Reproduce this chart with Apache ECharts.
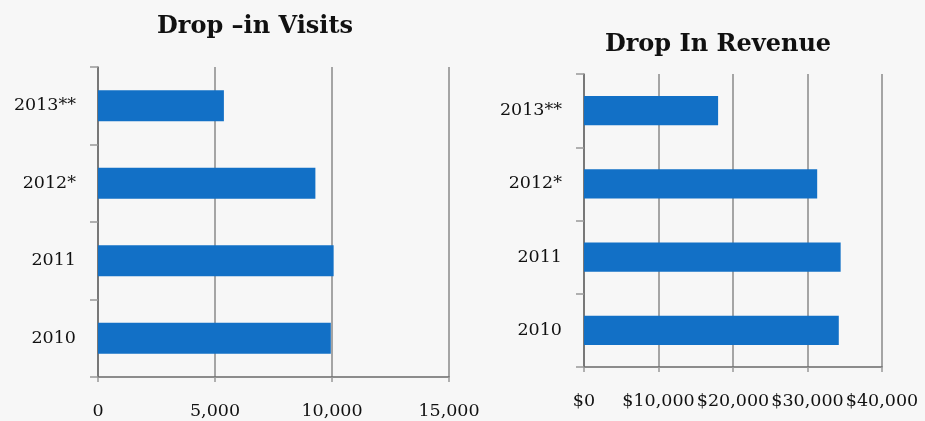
<!DOCTYPE html>
<html>
<head>
<meta charset="utf-8">
<script src="https://cdn.jsdelivr.net/npm/echarts@6/dist/echarts.min.js"></script>
<style>
html,body{margin:0;padding:0;background:#f7f7f7;}
#c{width:925px;height:421px;}
</style>
</head>
<body>
<div id="c"></div>
<script>
var categories = ['2010', '2011', '2012*', '2013**'];
var visits = [9950, 10070, 9290, 5380];
var revenue = [34200, 34450, 31300, 18000];
var visitTicks = [0, 5000, 10000, 15000];
var revenueTicks = [0, 10000, 20000, 30000, 40000];
var titles = ['Drop \u2013in Visits', 'Drop In Revenue'];

var serif = '"DejaVu Serif", "Liberation Serif", serif';
var barColor = '#1270c6';
var fmt = function (v) { return v.toLocaleString('en-US'); };

function catAxis(gi) {
  return {
    type: 'category', gridIndex: gi, data: categories,
    axisLine: {lineStyle: {color: '#6a6a6a', width: 1.5}},
    axisTick: {show: true, length: 8, lineStyle: {color: '#999', width: 1.5}},
    axisLabel: {color: '#111', fontFamily: serif, fontSize: 17.5, margin: 22}
  };
}
function valAxis(gi, ticks, prefix) {
  return {
    type: 'value', gridIndex: gi, min: ticks[0], max: ticks[ticks.length - 1],
    interval: ticks[1] - ticks[0],
    axisLine: {show: true, lineStyle: {color: '#6a6a6a', width: 1.5}},
    axisTick: {show: true, length: 5, lineStyle: {color: '#999', width: 1.5}},
    splitLine: {show: true, lineStyle: {color: '#8a8a8a', width: 1.5}},
    axisLabel: {color: '#111', fontFamily: serif, fontSize: 17.5, margin: 25,
      formatter: function (v) { return prefix + fmt(v); }}
  };
}

var chart = echarts.init(document.getElementById('c'));
chart.setOption({
  backgroundColor: '#f7f7f7',
  animation: false,
  title: [
    {text: titles[0], left: 250, top: 10, textAlign: 'center',
     textStyle: {fontFamily: serif, fontSize: 24, fontWeight: 'bold', color: '#111'}},
    {text: titles[1], left: 713, top: 28, textAlign: 'center',
     textStyle: {fontFamily: serif, fontSize: 24, fontWeight: 'bold', color: '#111'}}
  ],
  grid: [
    {left: 98, top: 67, width: 351, height: 310},
    {left: 584, top: 74, width: 298, height: 293}
  ],
  xAxis: [valAxis(0, visitTicks, ''), valAxis(1, revenueTicks, '$')],
  yAxis: [catAxis(0), catAxis(1)],
  series: [
    {type: 'bar', xAxisIndex: 0, yAxisIndex: 0, data: visits, barCategoryGap: '60%',
     itemStyle: {color: barColor}},
    {type: 'bar', xAxisIndex: 1, yAxisIndex: 1, data: revenue, barCategoryGap: '60%',
     itemStyle: {color: barColor}}
  ]
});
</script>
</body>
</html>
